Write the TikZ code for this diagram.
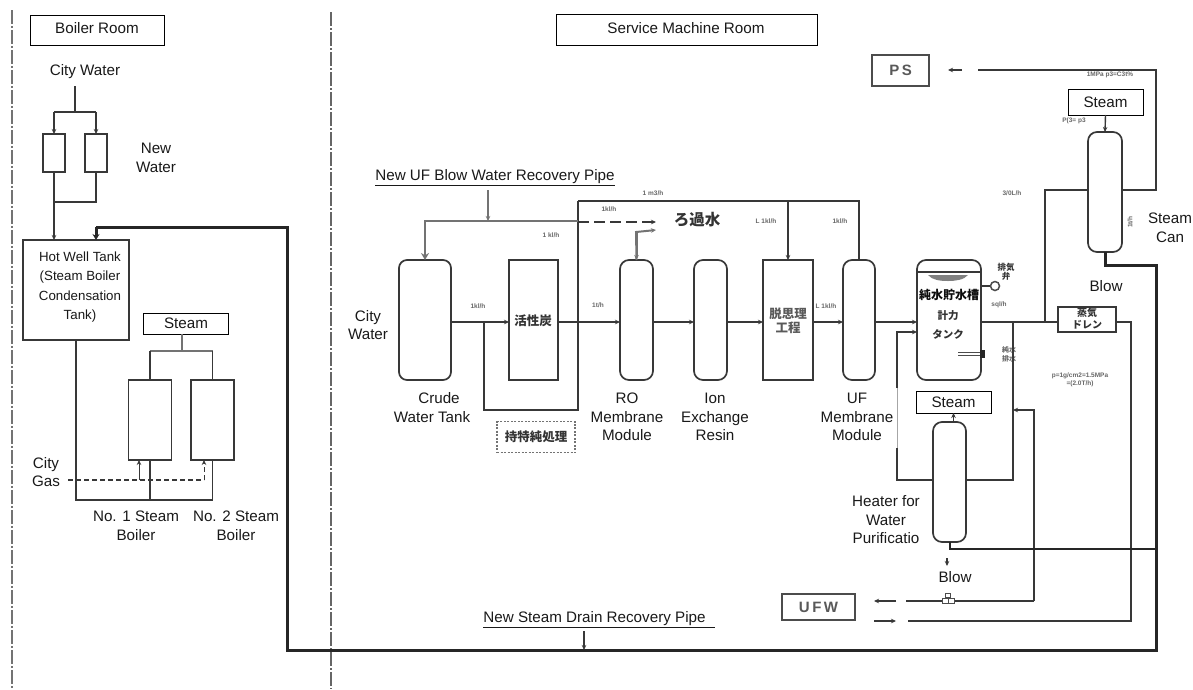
\documentclass[tikz,border=0pt]{standalone}
\usepackage{fontspec}
\setmainfont{Liberation Sans}
\newfontfamily\cjk{Noto Sans CJK JP}
\usetikzlibrary{arrows.meta}
\definecolor{pipecol}{gray}{0.22}
\definecolor{txtcol}{gray}{0.1}
\tikzset{
 x=1pt,y=-1pt,
 >={Stealth[length=5pt,width=4.5pt]},
 pipe/.style={draw=pipecol,line width=1.4pt},
 graypipe/.style={draw=black!55,line width=2pt},
 drainpipe/.style={draw=black!85,line width=3pt},
 dashpipe/.style={draw=pipecol,line width=1.2pt,dash pattern=on 5pt off 3pt},
 roomline/.style={draw=black!55,line width=2.6pt,dash pattern=on 14pt off 2pt on 2pt off 2pt},
 roomlineb/.style={draw=black!60,line width=1.8pt,dash pattern=on 14pt off 2pt on 2pt off 2pt},
 box/.style={draw=pipecol,line width=1.4pt,fill=white,inner sep=0pt,outer sep=0pt},
 titlebox/.style={draw=black,line width=0.9pt,fill=white,inner sep=0pt,outer sep=0pt,font=\fontsize{15.2}{18}\selectfont,text=txtcol},
 vessel/.style={box,rounded corners=9pt,line width=1.7pt},
 txt/.style={inner sep=0pt,align=center,font=\fontsize{15.2}{18.5}\selectfont,text=txtcol},
 blur/.style={inner sep=0pt,align=center,text=black!80,font=\cjk\bfseries\fontsize{12.5}{14}\selectfont},
 tiny/.style={inner sep=0pt,align=center,text=black!60,font=\bfseries\fontsize{6.5}{8}\selectfont},
 tagbox/.style={draw=black!70,line width=1.6pt,fill=white,inner sep=0pt,outer sep=0pt,text=black!65,font=\bfseries\fontsize{15}{18}\selectfont},
}
\begin{document}
\begin{tikzpicture}
\useasboundingbox (0,0) rectangle (1193,689);
% room separators
\coordinate (rla) at (12,10); \coordinate (rlb) at (12,689);
\coordinate (rra) at (331,12); \coordinate (rrb) at (331,689);
\draw[roomline] (rla) -- (rlb);
\draw[roomlineb] (rra) -- (rrb);

% ---------- junction coordinates
\coordinate (cwtop) at (75,86);
\coordinate (nwj) at (75,112);
\coordinate (y202) at (0,202);
\coordinate (stj) at (182,351);
\coordinate (y500) at (0,500);
\coordinate (gas) at (68,480);
\coordinate (g1) at (139,480);
\coordinate (g2) at (204,480);
\coordinate (b1in) at (139,460);
\coordinate (b2in) at (204,460);
\coordinate (dra) at (96,227);
\coordinate (drb) at (287,227);
\coordinate (drc) at (287,650);
\coordinate (drd) at (1156,650);
\coordinate (dre) at (1156,265);
\coordinate (drlbl) at (584,631);
\coordinate (rowy) at (0,322);
\coordinate (loopy) at (0,201);
\coordinate (recy) at (0,221);
\coordinate (lp) at (578,201);
\coordinate (lpm) at (578,322);
\coordinate (lpb) at (484,410);
\coordinate (lpc) at (484,322);
\coordinate (reclbl) at (488,190);
\coordinate (recj) at (488,221);
\coordinate (rec) at (578,221);
\coordinate (dasha) at (578,222);
\coordinate (dashb) at (656,222);
\coordinate (roa) at (636,232);
\coordinate (rob) at (656,230);
\coordinate (fb) at (897,332);
\coordinate (fc) at (897,388);
\coordinate (fd) at (897,448);
\coordinate (fe) at (897,480);
\coordinate (hr) at (1013,480);
\coordinate (hrt) at (1013,322);
\coordinate (canb) at (1045,322);
\coordinate (cany) at (0,190);
\coordinate (ca) at (1156,190);
\coordinate (cb) at (1156,70);
\coordinate (cc) at (978,70);
\coordinate (cd) at (962,70);
\coordinate (ce) at (948,70);
\coordinate (ma) at (1034,410);
\coordinate (mb) at (1034,601);
\coordinate (mc) at (906,601);
\coordinate (md) at (896,601);
\coordinate (me) at (874,601);
\coordinate (na) at (1131,322);
\coordinate (nb) at (1131,621);
\coordinate (nc) at (908,621);
\coordinate (nd) at (874,621);
\coordinate (nf) at (896,621);
\coordinate (lowy) at (0,549);
\coordinate (blowa) at (947,558);
\coordinate (blowb) at (947,566);
\coordinate (canbl) at (1105,265);

% ---------- boiler room
\node[titlebox,minimum width=134pt,minimum height=30pt] (broom) at (97,30) {};
\node[txt] (brtxt) at (97,28) {Boiler Room};
\node[txt] (citywater) at (85,72) {City Water};
\node[box,minimum width=22pt,minimum height=38pt] (f1) at (54,153) {};
\node[box,minimum width=22pt,minimum height=38pt] (f2) at (96,153) {};
\node[txt] (newwater) at (156,158) {New\\Water};
\node[box,minimum width=106pt,minimum height=100pt] (hw) at (76,290) {};
\node[txt,font=\fontsize{13.3}{19.2}\selectfont] (hwtxt) at (80,287) {Hot Well Tank\\(Steam Boiler\\Condensation\\Tank)};
\node[titlebox,minimum width=85pt,minimum height=21pt] (st1) at (186,323.5) {Steam};
\node[box,minimum width=43pt,minimum height=80pt] (b1) at (150,420) {};
\node[box,minimum width=43pt,minimum height=80pt] (b2) at (212.5,420) {};
\node[txt] (gastxt) at (46,472) {City\\Gas};
\node[txt] (b1txt) at (136,526) {No. 1 Steam\\Boiler};
\node[txt] (b2txt) at (236,526) {No. 2 Steam\\Boiler};

\draw[pipe] (cwtop) -- (nwj);
\draw[pipe] (f1.north |- nwj) -- (f2.north |- nwj);
\draw[pipe,->] (f1.north |- nwj) -- (f1.north);
\draw[pipe,->] (f2.north |- nwj) -- (f2.north);
\draw[pipe,->] (f1.south) -- (f1.south |- hw.north);
\draw[pipe] (f2.south) |- (f1.south |- y202);
\draw[graypipe] (st1.south -| stj) -- (stj);
\draw[graypipe] (b1.north |- stj) -- (b2.north |- stj);
\draw[pipe] (b1.north |- stj) -- (b1.north);
\draw[pipe] (b2.north |- stj) -- (b2.north);
\draw[pipe] (hw.south) -- (hw.south |- y500) -| (b2.south);
\draw[pipe] (b1.south) -- (b1.south |- y500);
\draw[dashpipe] (gas) -- (g2);
\draw[dashpipe,solid,->,line width=1pt] (g1) -- (b1in);
\draw[dashpipe,->,line width=1pt] (g2) -- (b2in);

% ---------- service machine room
\node[titlebox,minimum width=261pt,minimum height=31pt] (srv) at (687,30) {};
\node[txt] (srvtxt) at (686,28) {Service Machine Room};
\node[tagbox,minimum width=57pt,minimum height=31pt] (ps) at (900.5,70.5) {P\,S};
\node[tagbox,minimum width=73pt,minimum height=26pt] (ufw) at (818.5,607) {U\,F\,W};
\node[txt] (recname) at (495,178) {\underline{New UF Blow Water Recovery Pipe}};
\node[txt] (drname) at (599,620) {\underline{New Steam Drain Recovery Pipe\hspace{9pt}}};

\node[vessel,rounded corners=8pt,minimum width=52pt,minimum height=120pt] (crude) at (425,320) {};
\node[box,minimum width=49pt,minimum height=120pt] (carbon) at (533.5,320) {};
\node[vessel,minimum width=33pt,minimum height=120pt] (ro) at (636.5,320) {};
\node[vessel,minimum width=33pt,minimum height=120pt] (ion) at (710.5,320) {};
\node[box,minimum width=50pt,minimum height=120pt] (proc) at (788,320) {};
\node[vessel,minimum width=32pt,minimum height=120pt] (uf) at (859,320) {};
\node[vessel,minimum width=64pt,minimum height=120pt] (pure) at (949,320) {};
\node[vessel,minimum width=33pt,minimum height=120pt] (heater) at (949.5,482) {};
\node[vessel,minimum width=34pt,minimum height=120pt] (can) at (1105,192) {};
\node[titlebox,minimum width=75pt,minimum height=26pt] (st2) at (1105.5,102) {Steam};
\node[titlebox,minimum width=75pt,minimum height=22pt] (st3) at (953.5,402) {Steam};
\node[box,minimum width=58pt,minimum height=25pt] (cond) at (1087,319.5) {};

\node[txt] (t1) at (368,325) {City\\Water};
\node[txt] (t2) at (432,407.5) {\hspace*{14pt}Crude\\Water Tank};
\node[txt] (t3) at (627,417) {RO\\Membrane\\Module};
\node[txt] (t4) at (715,417) {Ion\\Exchange\\Resin};
\node[fill=white,txt] (t5) at (857,417) {UF\\Membrane\\Module};
\node[txt] (t6) at (886,520) {Heater for\\Water\\Purificatio};
\node[txt] (t7) at (1170,228) {Steam\\Can};
\node[txt] (t8) at (1106,286) {Blow};
\node[txt] (t9) at (955,577) {Blow};

% illegible small print
\node[blur] (c1) at (533,321) {活性炭};
\node[draw=black!55,line width=1.2pt,dash pattern=on 2pt off 1.5pt,inner sep=0pt,minimum width=78pt,minimum height=31pt,blur] (c2) at (536,437) {持特純処理};
\node[blur,font=\cjk\bfseries\fontsize{15.5}{16}\selectfont] (c3) at (697,220) {ろ過水};
\node[blur,text=black!65] (c4) at (788,321) {脱思理\\工程};
\node[blur,text=black!95,font=\cjk\bfseries\fontsize{12}{14}\selectfont] (c5) at (949,295) {純水貯水槽};
\node[blur,font=\cjk\bfseries\fontsize{10.5}{19}\selectfont] (c6) at (948,325) {計力\\タンク};
\node[blur,font=\cjk\bfseries\fontsize{10}{12}\selectfont] (c7) at (1087,319) {蒸気\\ドレン};
\node[blur,font=\cjk\bfseries\fontsize{8.5}{9}\selectfont] (c8) at (1006,272) {排気\\弁};
\node[blur,text=black!60,font=\cjk\bfseries\fontsize{7}{9}\selectfont] (c9) at (1009,354) {純水\\排水};
\node[tiny] (l1) at (478,306) {1kl/h};
\node[tiny] (l2) at (598,305) {1t/h};
\node[tiny] (l3) at (609,209) {1kl/h};
\node[tiny] (l4) at (551,235) {1 kl/h};
\node[tiny] (l5) at (653,193) {1 m3/h};
\node[tiny] (l6) at (766,221) {L 1kl/h};
\node[tiny] (l7) at (840,221) {1kl/h};
\node[tiny] (l8) at (826,306) {L 1kl/h};
\node[tiny] (l9) at (1110,75) {1MPa p3=C3t\%};
\node[tiny] (l10) at (1074,121) {P(3= p3};
\node[tiny] (l11) at (1012,193) {3/0L/h};
\node[tiny] (l12) at (999,305) {sql/h};
\node[tiny] (l13) at (1080,380) {p=1g/cm2=1.5MPa\\=(2.0T/h)};
\node[tiny,rotate=90] (l14) at (1130,222) {1t/h};

% pure-tank details
\coordinate (lida) at (917,272);
\coordinate (lidb) at (981,272);
\draw[pipe,line width=1.5pt] (lida) -- (lidb);
\coordinate (lensa) at (928,275);
\coordinate (lensb) at (968,275);
\coordinate (lensc) at (948,281);
\fill[black!50] (lensa) -- (lensb) .. controls (964,280) and (955,281) .. (lensc) .. controls (940,281) and (932,280) .. (lensa) -- cycle;
\node[draw=black!70,line width=1.5pt,fill=white,circle,inner sep=0pt,minimum size=9pt] (vc) at (995,286) {};
\draw[pipe] (pure.east |- vc) -- (vc);
\coordinate (ofa) at (958,354);
\draw[draw=black!70,double=white,line width=1pt,double distance=1.2pt] (ofa) -- (ofa -| pure.east);
\node[fill=black!85,inner sep=0pt,minimum width=5pt,minimum height=8pt] (ofb) at (982,354) {};

% main row
\draw[pipe] (crude.east |- rowy) -- (lpc);
\draw[pipe,->] (lpc) -- (carbon.west |- rowy);
\draw[pipe] (carbon.east |- rowy) -- (lpm);
\draw[pipe,->] (lpm) -- (ro.west |- rowy);
\draw[pipe,->] (ro.east |- rowy) -- (ion.west |- rowy);
\draw[pipe,->] (ion.east |- rowy) -- (proc.west |- rowy);
\draw[pipe,->] (proc.east |- rowy) -- (uf.west |- rowy);
\draw[pipe,->] (uf.east |- rowy) -- (pure.west |- rowy);
% return loop
\draw[pipe] (lp) -- (lpm) -- (lpm |- lpb) -- (lpb) -- (lpc);
\draw[pipe] (lp) -- (uf.north |- lp) -- (uf.north);
\draw[pipe,->] (proc.north |- lp) -- (proc.north);
% UF blow recovery
\draw[graypipe,line width=2.6pt,-{Stealth[length=7pt,width=8pt]}] (rec) -- (crude.north |- rec) -- (crude.north);
\draw[graypipe,line width=1.3pt,->] (reclbl) -- (recj);
\draw[dashpipe,line width=1.4pt,dash pattern=on 11pt off 5pt,->] (dasha) -- (dashb);
\draw[graypipe,->] (ro.north |- roa) -- (ro.north);
\draw[graypipe,->] (ro.north) -- (roa) -- (rob);
% heater loop
\draw[pipe,->] (fc) -- (fb) -- (pure.west |- fb);
\draw[draw=black!35,line width=0.6pt] (fc) -- (fd);
\draw[pipe] (fd) -- (fe) -- (heater.west |- fe);
\draw[pipe] (heater.east |- fe) -- (hr) -- (hrt);
\draw[pipe] (pure.east |- rowy) -- (cond.west |- rowy);
\draw[pipe] (canb) |- (can.west |- cany);
\draw[pipe] (can.east |- cany) -- (ca) -- (cb) -- (cc);
\draw[pipe,->] (cd) -- (ce);
\draw[pipe,->] (st2.south) -- (can.north);
\draw[pipe,->] (heater.north -| st3) -- (st3.south);
\draw[pipe,->] (mb) -- (ma) -- (hr |- ma);
\draw[pipe] (mb) -- (mc);
\draw[pipe,->] (md) -- (me);
\draw[pipe] (cond.east |- rowy) -- (na) -- (nb) -- (nc);
\draw[pipe,->] (nd) -- (nf);
% blowdown + drain
\draw[drainpipe,line width=2pt] (heater.south) -- (heater.south |- lowy) -- (dre |- lowy);
\draw[pipe,->] (blowa) -- (blowb);
\draw[drainpipe] (can.south) -- (canbl) -- (dre) -- (drd) -- (drc) -- (drb) -- (dra);
\draw[drainpipe,-{Stealth[length=6pt,width=7pt]}] (dra) -- (hw.north -| dra);
\draw[pipe,->] (drlbl) -- (drlbl |- drc);
% trap on the UFW line
\node[draw=black!70,line width=1pt,fill=white,minimum width=5pt,minimum height=4pt,inner sep=0pt] (tr0) at (948,595) {};
\node[draw=black!70,line width=1pt,fill=white,minimum width=6pt,minimum height=5pt,inner sep=0pt] (tr1) at (945,601) {};
\node[draw=black!70,line width=1pt,fill=white,minimum width=6pt,minimum height=5pt,inner sep=0pt] (tr2) at (951,601) {};
\end{tikzpicture}
\end{document}
